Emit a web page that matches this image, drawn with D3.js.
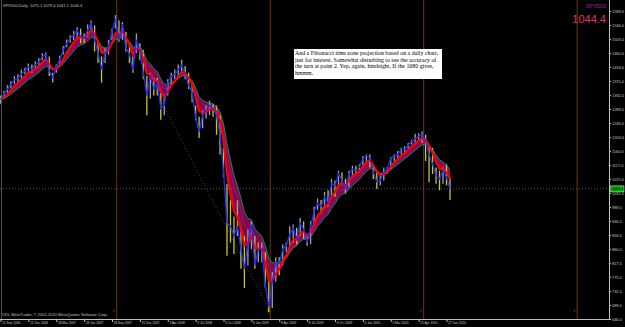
<!DOCTYPE html>
<html>
<head>
<meta charset="utf-8">
<script src="https://cdn.jsdelivr.net/npm/d3@7"></script>
<style>
  body { margin: 0; background: #000; }
  svg { display: block; }
</style>
</head>
<body>
<div id="chart"></div>
<script>
// SPX500 daily, one sample per ~8 trading days
const closes = [
  1318, 1335, 1350, 1365, 1378, 1382, 1396, 1405,
  1418, 1410, 1425, 1432, 1450, 1455, 1405, 1385,
  1417, 1440, 1470, 1490, 1505, 1515, 1530, 1510,
  1505, 1530, 1552, 1500, 1460, 1411, 1460, 1480,
  1527, 1565, 1500, 1549, 1475, 1458, 1407, 1500,
  1468, 1400, 1330, 1390, 1350, 1370, 1290, 1300,
  1370, 1390, 1395, 1410, 1422, 1395, 1360, 1340,
  1262, 1220, 1270, 1285, 1300, 1290, 1270, 1210,
  1099, 940, 930, 900, 930, 860, 800, 880,
  935, 810, 860, 860, 750, 683, 760, 820,
  815, 860, 870, 905, 925, 890, 940, 920,
  880, 930, 975, 1000, 990, 1020, 1000, 1060,
  1054, 1090, 1070, 1045, 1090, 1105, 1100, 1110,
  1137, 1145, 1140, 1095, 1066, 1070, 1095, 1105,
  1138, 1145, 1150, 1165, 1167, 1178, 1190, 1197,
  1206, 1210, 1190, 1150, 1120, 1085, 1075, 1100,
  1080, 1044
];
const highs = [
  1330, 1345, 1362, 1375, 1390, 1395, 1410, 1415,
  1428, 1425, 1435, 1445, 1460, 1462, 1450, 1400,
  1425, 1452, 1482, 1502, 1515, 1528, 1540, 1535,
  1520, 1548, 1560, 1545, 1495, 1450, 1475, 1500,
  1535, 1576, 1560, 1555, 1525, 1485, 1450, 1520,
  1490, 1470, 1390, 1400, 1385, 1385, 1340, 1330,
  1380, 1400, 1410, 1425, 1440, 1420, 1400, 1365,
  1300, 1265, 1285, 1300, 1315, 1305, 1300, 1270,
  1170, 1060, 1010, 960, 1010, 920, 900, 920,
  945, 900, 880, 880, 850, 760, 790, 835,
  835, 875, 880, 930, 935, 925, 955, 945,
  900, 945, 990, 1015, 1010, 1035, 1040, 1075,
  1070, 1100, 1095, 1075, 1100, 1115, 1115, 1120,
  1145, 1150, 1150, 1120, 1100, 1085, 1110, 1112,
  1142, 1150, 1160, 1170, 1175, 1185, 1195, 1213,
  1215, 1220, 1210, 1175, 1170, 1110, 1100, 1110,
  1120, 1079
];
const lows = [
  1305, 1322, 1338, 1352, 1365, 1370, 1382, 1395,
  1405, 1400, 1412, 1420, 1438, 1440, 1390, 1370,
  1400, 1428, 1455, 1478, 1492, 1500, 1505, 1490,
  1490, 1510, 1525, 1465, 1430, 1370, 1430, 1455,
  1500, 1535, 1495, 1500, 1465, 1430, 1400, 1460,
  1440, 1380, 1270, 1320, 1330, 1330, 1256, 1270,
  1330, 1360, 1380, 1390, 1405, 1380, 1350, 1310,
  1255, 1200, 1230, 1260, 1270, 1265, 1210, 1150,
  1080, 840, 880, 845, 900, 800, 741, 810,
  860, 800, 820, 820, 740, 667, 680, 760,
  780, 810, 850, 870, 880, 875, 900, 890,
  870, 875, 940, 980, 970, 985, 990, 1020,
  1020, 1055, 1060, 1030, 1050, 1085, 1090, 1095,
  1115, 1130, 1110, 1075, 1044, 1055, 1070, 1090,
  1105, 1130, 1140, 1150, 1155, 1165, 1180, 1185,
  1195, 1185, 1130, 1065, 1090, 1060, 1040, 1060,
  1055, 1010
];

const dateLabels = ["21 Sep 2006", "21 Dec 2006", "28 Mar 2007", "28 Jun 2007", "28 Sep 2007",
  "31 Dec 2007", "3 Apr 2008", "3 Jul 2008", "3 Oct 2008", "6 Jan 2009", "8 Apr 2009",
  "8 Jul 2009", "6 Oct 2009", "6 Jan 2010", "5 Mar 2010", "21 Apr 2010", "27 Jun 2010"];
const dateTickIdx = [0, 8, 16, 24, 32, 40, 48, 56, 64, 72, 80, 88, 96, 104, 112, 120, 128];

const priceTicks = [646, 689, 732, 775, 817, 860, 903, 946, 989, 1032, 1075, 1117, 1160,
  1203, 1246, 1289, 1332, 1375, 1418, 1460, 1503, 1546, 1589];

// fibonacci time zone anchors (sample index, price)
const fibAnchors = [{i: 33.35, v: 1576}, {i: 77.4, v: 667}];
const fibLevels = [0, 1, 2, 3];

const lastPrice = 1044.4;
const ohlcText = "SPX500,Daily  1075.1 1079.4 1041.1 1044.4";
const note = ["And a Fibonacci time zone projection based on a daily chart,",
  "just for interest. Somewhat disturbing to see the accuracy of",
  "the turn at point 2. Yep, again, hindsight. If the 1080 gives,",
  "hmmm."];

const width = 625, height = 327;
const plotRight = 609, plotBottom = 319;

let svg = d3.select("#chart").append("svg")
  .attr("width", width).attr("height", height)
  .attr("viewBox", [0, 0, width, height]);

svg.append("rect").attr("width", width).attr("height", height).attr("fill", "#000");

let x = d3.scaleLinear().domain([0, 128]).range([0.5, 446.5]);
let y = d3.scaleLinear().domain([646, 1589]).range([plotBottom, 11]);

const data = closes.map((c, i) => ({i: i, c: c, h: highs[i], l: lows[i]}));

// moving average ribbon, computed from the closes like the terminal does
function ema(values, span) {
  const a = 2 / (span + 1);
  let out = [], prev = values[0];
  for (let v of values) { prev = prev + a * (v - prev); out.push(prev); }
  return out;
}
const spans = [4, 5, 6, 7, 8, 9];
const ribbon = spans.map(s => ema(closes, s));
const fast = ribbon[0], slow = ribbon[ribbon.length - 1];

svg.append("path")
  .datum(data)
  .attr("fill", "#7a0848")
  .attr("d", d3.area().x(d => x(d.i)).y0(d => y(fast[d.i])).y1(d => y(slow[d.i])));

const line = d3.line().x((d, i) => x(i));
for (let k = 1; k < ribbon.length - 1; k++) {
  svg.append("path")
    .datum(ribbon[k])
    .attr("fill", "none").attr("stroke", k % 2 ? "#c0186a" : "#70106a").attr("stroke-width", 0.7)
    .attr("d", line.y(d => y(d)));
}

// fibonacci time zones
const fibStep = fibAnchors[1].i - fibAnchors[0].i;
let fib = svg.append("g");
fib.selectAll("line")
  .data(fibLevels)
  .join("line")
  .attr("x1", d => x(fibAnchors[0].i + d * fibStep)).attr("x2", d => x(fibAnchors[0].i + d * fibStep))
  .attr("y1", 0).attr("y2", plotBottom)
  .attr("stroke", "#6e3812").attr("stroke-width", 1);
fib.selectAll("text")
  .data(fibLevels)
  .join("text")
  .attr("x", d => x(fibAnchors[0].i + d * fibStep) - 2)
  .attr("y", plotBottom - 7)
  .attr("text-anchor", "end")
  .attr("font-family", "Liberation Sans, Arial, sans-serif").attr("font-size", 3.5)
  .attr("fill", "#9a5020")
  .text(d => d);
fib.append("line")
  .attr("x1", x(fibAnchors[0].i)).attr("y1", y(fibAnchors[0].v))
  .attr("x2", x(fibAnchors[1].i)).attr("y2", y(fibAnchors[1].v))
  .attr("stroke", "#8a4a1a").attr("stroke-width", 0.8).attr("stroke-dasharray", "1,2");

// price bars
svg.selectAll(".bar")
  .data(data)
  .join("line")
  .attr("class", "bar")
  .attr("x1", d => x(d.i)).attr("x2", d => x(d.i))
  .attr("y1", d => y(d.h)).attr("y2", d => y(d.l))
  .attr("stroke", (d, i) => (i > 0 && d.c < closes[i - 1]) ? "#c8c820" : "#a0a0a0")
  .attr("stroke-width", 1.3);

svg.append("path")
  .datum(slow)
  .attr("fill", "none").attr("stroke", "#00a060").attr("stroke-width", 0.9)
  .attr("d", line.y(d => y(d)));
svg.append("path")
  .datum(fast)
  .attr("fill", "none").attr("stroke", "#ff0000").attr("stroke-width", 2)
  .attr("d", line.y(d => y(d)));
svg.append("path")
  .datum(closes)
  .attr("fill", "none").attr("stroke", "#2828ff").attr("stroke-width", 1.3)
  .attr("d", line.y(d => y(d)));

// last price line
svg.append("line")
  .attr("x1", 0).attr("x2", plotRight)
  .attr("y1", y(lastPrice)).attr("y2", y(lastPrice))
  .attr("stroke", "#707070").attr("stroke-width", 0.8).attr("stroke-dasharray", "1,2");

// left border
svg.append("line").attr("x1", 1.5).attr("x2", 1.5).attr("y1", 0).attr("y2", plotBottom)
  .attr("stroke", "#505050").attr("stroke-width", 1);

// axes
const font = "Liberation Sans, Arial, sans-serif";
const yAxis = g => g
  .attr("transform", `translate(${plotRight}, 0)`)
  .call(d3.axisRight(y).tickValues(priceTicks).tickSize(2).tickFormat(d => d.toFixed(1)))
  .call(g => g.select(".domain").remove());
const xAxis = g => g
  .attr("transform", `translate(0, ${plotBottom})`)
  .call(d3.axisBottom(x).tickValues(dateTickIdx).tickSize(3).tickFormat((d, k) => dateLabels[k]))
  .call(g => g.select(".domain").remove());

let ya = svg.append("g").call(yAxis);
ya.selectAll("text").attr("x", 3).attr("fill", "#c8c8c8").attr("font-family", font).attr("font-size", 3.9);
ya.selectAll("line").attr("stroke", "#c0c0c0");
let xa = svg.append("g").call(xAxis);
xa.selectAll("text").attr("text-anchor", "start").attr("x", 1.2).attr("y", 3)
  .attr("fill", "#c8c8c8").attr("font-family", font).attr("font-size", 3.2);
xa.selectAll("line").attr("stroke", "#c0c0c0");

svg.append("line").attr("x1", plotRight + 0.5).attr("x2", plotRight + 0.5).attr("y1", 0).attr("y2", plotBottom)
  .attr("stroke", "#c0c0c0");
svg.append("line").attr("x1", 0).attr("x2", plotRight + 0.5).attr("y1", plotBottom + 0.5).attr("y2", plotBottom + 0.5)
  .attr("stroke", "#c0c0c0");

// last price box
svg.append("rect")
  .attr("x", plotRight + 1).attr("y", y(lastPrice) - 3).attr("width", 14).attr("height", 6)
  .attr("fill", "#00b000").attr("stroke", "#e0e0e0").attr("stroke-width", 0.5);
svg.append("text")
  .attr("x", plotRight + 2.5).attr("y", y(lastPrice) + 1.5)
  .attr("font-family", font).attr("font-size", 3.9).attr("fill", "#000")
  .text(lastPrice.toFixed(1));

// header texts
svg.append("text").attr("x", 3).attr("y", 6.5).attr("font-family", font).attr("font-size", 4)
  .attr("fill", "#c0c0c0").attr("xml:space", "preserve").text(ohlcText);
svg.append("text").attr("x", 606).attr("y", 7.5).attr("text-anchor", "end").attr("font-family", font)
  .attr("font-size", 5.5).attr("fill", "#a020a0").text("SPX500");
svg.append("text").attr("x", 606).attr("y", 23).attr("text-anchor", "end").attr("font-family", font)
  .attr("font-size", 11).attr("fill", "#e0306a").text(lastPrice.toFixed(1));
svg.append("text").attr("x", 2).attr("y", 316).attr("font-family", font).attr("font-size", 4)
  .attr("fill", "#c0c0c0").text("ODL MetaTrader, \u00a9 2001-2010 MetaQuotes Software Corp.");

// annotation box
svg.append("rect").attr("x", 294).attr("y", 49).attr("width", 148).attr("height", 30).attr("fill", "#fff");
svg.append("g").selectAll("text")
  .data(note)
  .join("text")
  .attr("x", 295).attr("y", (d, k) => 55 + k * 6.6)
  .attr("font-family", "Liberation Serif, Times New Roman, serif").attr("font-size", 5.9)
  .attr("fill", "#000")
  .text(d => d);
</script>
</body>
</html>
